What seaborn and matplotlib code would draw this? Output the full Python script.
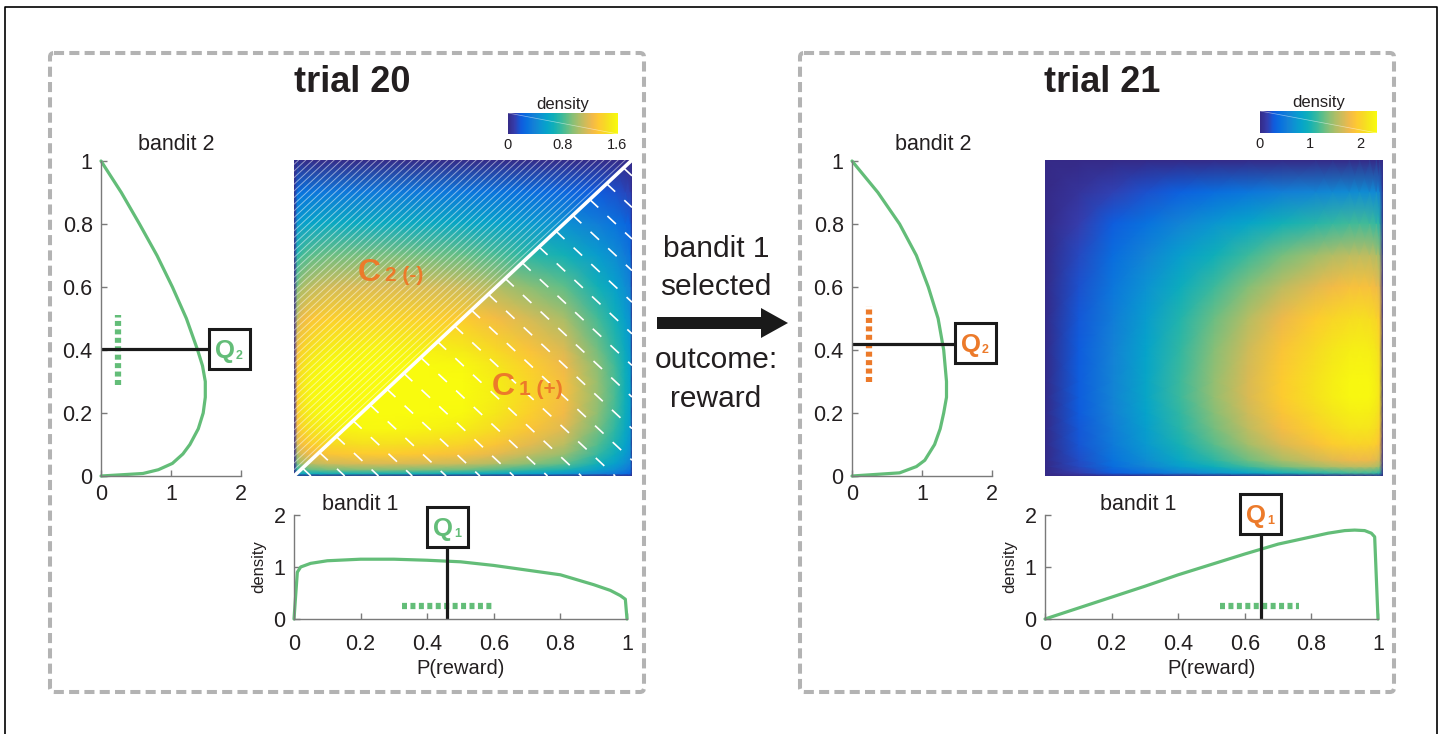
import numpy as np
import matplotlib
matplotlib.use('Agg')
import matplotlib.pyplot as plt
from matplotlib.colors import LinearSegmentedColormap
from matplotlib.patches import FancyBboxPatch, Rectangle, FancyArrow
import seaborn as sns

# ---- data ----
# trial 20 marginals
t20_p1 = [0, 0.01, 0.02, 0.05, 0.1, 0.2, 0.3, 0.4, 0.5, 0.6, 0.7, 0.8, 0.9, 0.95, 0.98, 0.995, 1.0]
t20_d1 = [0, 0.9, 1.0, 1.07, 1.12, 1.15, 1.15, 1.13, 1.10, 1.03, 0.94, 0.85, 0.66, 0.55, 0.45, 0.38, 0]
t20_p2 = [0, 0.008, 0.02, 0.04, 0.07, 0.1, 0.15, 0.2, 0.25, 0.3, 0.35, 0.4, 0.5, 0.6, 0.7, 0.8, 0.9, 1.0]
t20_d2 = [0, 0.6, 0.82, 1.02, 1.17, 1.27, 1.39, 1.46, 1.49, 1.49, 1.45, 1.38, 1.22, 1.02, 0.80, 0.55, 0.29, 0]
# trial 21 marginals
t21_p1 = [0, 0.1, 0.2, 0.3, 0.4, 0.5, 0.6, 0.7, 0.8, 0.85, 0.9, 0.93, 0.96, 0.98, 0.99, 1.0]
t21_d1 = [0, 0.21, 0.42, 0.63, 0.85, 1.05, 1.25, 1.44, 1.58, 1.65, 1.70, 1.71, 1.70, 1.65, 1.58, 0]
t21_p2 = [0, 0.01, 0.03, 0.05, 0.1, 0.15, 0.2, 0.25, 0.3, 0.4, 0.5, 0.6, 0.7, 0.8, 0.9, 1.0]
t21_d2 = [0, 0.68, 0.92, 1.04, 1.18, 1.26, 1.31, 1.35, 1.35, 1.31, 1.23, 1.09, 0.92, 0.68, 0.37, 0]

# Q values and dotted intervals
t20_q1, t20_q2 = 0.46, 0.404
t21_q1, t21_q2 = 0.65, 0.42
t20_int1 = [0.325, 0.60]
t20_int2 = [0.29, 0.51]
t21_int1 = [0.527, 0.764]
t21_int2 = [0.30, 0.54]

# colour limits and tick labels
t20_vmax, t21_vmax = 1.62, 2.34
t20_cticks, t20_clabels = [0, 0.8, 1.6], ['0', '0.8', '1.6']
t21_cticks, t21_clabels = [0, 1, 2], ['0', '1', '2']
p_ticks = [0, 0.2, 0.4, 0.6, 0.8, 1]
p_labels = ['0', '0.2', '0.4', '0.6', '0.8', '1']
d2_ticks, d2_labels = [0, 1, 2], ['0', '1', '2']
arrow_lines = ['bandit 1', 'selected', 'outcome:', 'reward']

# ---- style ----
GREEN = '#63bd78'
ORANGE = '#ec7a2a'
TXT = '#231f20'
AXC = '#7a7a7a'

parula_pts = [
    (0.2081, 0.1663, 0.5292), (0.2081, 0.2386, 0.6771), (0.0591, 0.3598, 0.8683),
    (0.0329, 0.4430, 0.8720), (0.0779, 0.5040, 0.8384), (0.0488, 0.5772, 0.8228),
    (0.0231, 0.6418, 0.7913), (0.0590, 0.6838, 0.7254), (0.1801, 0.7177, 0.6424),
    (0.3482, 0.7424, 0.5473), (0.5300, 0.7491, 0.4661), (0.6834, 0.7435, 0.4044),
    (0.8185, 0.7327, 0.3498), (0.9450, 0.7261, 0.2886), (0.9955, 0.7861, 0.1967),
    (0.9697, 0.8481, 0.1475), (0.9598, 0.9218, 0.0948), (0.9763, 0.9831, 0.0538)]
parula = LinearSegmentedColormap.from_list('parula', parula_pts)

sns.set_style('ticks')
plt.rcParams['font.family'] = ['Liberation Sans', 'DejaVu Sans']

W, H = 1443, 734
fig = plt.figure(figsize=(W / 100, H / 100), dpi=100)


def px_axes(x0, y0, x1, y1):
    return fig.add_axes([x0 / W, 1 - y1 / H, (x1 - x0) / W, (y1 - y0) / H])


def style_axes(ax):
    sns.despine(ax=ax)
    for s in ['left', 'bottom']:
        ax.spines[s].set_color(AXC)
        ax.spines[s].set_linewidth(1.0)
    ax.tick_params(direction='in', length=4, width=1, color=AXC,
                   labelcolor=TXT, labelsize=15.5)
    ax.patch.set_alpha(0)


# overlay in pixel coordinates for frames, boxes and annotations
ov = fig.add_axes([0, 0, 1, 1], zorder=10)
ov.set_xlim(0, W)
ov.set_ylim(H, 0)
ov.axis('off')


def q_box(x, y, idx, color):
    ov.add_patch(Rectangle((x, y), 41, 40, facecolor='white', edgecolor='#1a1a1a', lw=2.2))
    ov.text(x + 6, y + 29, 'Q', color=color, fontsize=18.5, fontweight='bold', va='baseline')
    ov.text(x + 27, y + 30, idx, color=color, fontsize=9, fontweight='bold', va='baseline')


def draw_panel(dx, p1, d1, p2, d2, q1, q2, int1, int2, vmax, cticks, clabels,
               title, tx, qcol, dot2col, hatched, b1x, b2dx, q1box, q2box, cbar):
    # bandit 2 (vertical marginal)
    ax2 = px_axes(101 + dx, 161, 241 + dx, 476)
    sns.lineplot(x=d2, y=p2, sort=False, estimator=None, color=GREEN, lw=2.3,
                 clip_on=False, ax=ax2)
    ax2.plot([0.24, 0.24], int2, color=dot2col, lw=4.5, ls=(0, (0.8, 0.55)))
    ax2.plot([0, (q2box[0] - 101 - dx) / 70], [q2, q2], color='#1a1a1a', lw=2.3,
             clip_on=False, solid_capstyle='butt')
    ax2.set_xlim(0, 2)
    ax2.set_ylim(0, 1)
    ax2.set_xticks(d2_ticks, labels=d2_labels)
    ax2.set_yticks(p_ticks, labels=p_labels)
    style_axes(ax2)
    ax2.tick_params(axis='x', pad=6)
    ax2.tick_params(axis='y', pad=6)
    ax2.text(0.5 + b2dx, 1.02, 'bandit 2', transform=ax2.transAxes, ha='center',
             va='bottom', fontsize=15.5, color=TXT)

    # joint density heatmap
    axh = px_axes(294 + dx, 160, 632 + dx, 476)
    Z = np.outer(d2, d1)
    mesh = axh.pcolormesh(p1, p2, Z, shading='gouraud', cmap=parula, vmin=0, vmax=vmax)
    axh.set_xlim(0, 1)
    axh.set_ylim(0, 1)
    axh.axis('off')
    if hatched:
        # fine solid lines over C2 (upper-left), dashed lines over C1 (lower-right)
        for c in np.arange(0.02, 1.0, 0.021):
            axh.plot([0, 1 - c], [c, 1], color='white', lw=0.7, alpha=0.5)
        for t in np.arange(0.025, 1.0, 0.05):
            s = min(1 - t, t)
            axh.plot([t, t + s], [t, t - s], color='white', lw=1.2,
                     ls=(0, (7, 7.5)))
        axh.plot([0, 1], [0, 1], color='white', lw=2.6)

    # colorbar
    cax = px_axes(*cbar)
    cb = fig.colorbar(mesh, cax=cax, orientation='horizontal')
    cb.set_ticks(cticks, labels=clabels)
    cb.outline.set_visible(False)
    cax.tick_params(length=0, labelsize=10.5, pad=3, labelcolor=TXT)
    cax.set_title('density', fontsize=12, pad=3, color=TXT)
    cax.plot([0, vmax], [1, 0], color='white', lw=0.5, alpha=0.5)

    # bandit 1 (horizontal marginal)
    ax1 = px_axes(294 + dx, 515, 627 + dx, 619)
    sns.lineplot(x=p1, y=d1, sort=False, estimator=None, color=GREEN, lw=2.3,
                 clip_on=False, ax=ax1)
    ax1.plot(int1, [0.25, 0.25], color=GREEN, lw=4.5, ls=(0, (0.8, 0.55)))
    ax1.plot([q1, q1], [0, (619 - q1box[1] - 40) / 52], color='#1a1a1a', lw=2.3,
             clip_on=False, solid_capstyle='butt')
    ax1.set_xlim(0, 1)
    ax1.set_ylim(0, 2)
    ax1.set_xticks(p_ticks, labels=p_labels)
    ax1.set_yticks(d2_ticks, labels=d2_labels)
    style_axes(ax1)
    ax1.tick_params(axis='x', pad=11)
    ax1.tick_params(axis='y', pad=6)
    ax1.set_xlabel('P(reward)', fontsize=14.5, color=TXT, labelpad=3)
    ax1.set_ylabel('density', fontsize=12, color=TXT, labelpad=5)
    ax1.text(b1x, 2.0, 'bandit 1', ha='center', va='bottom', fontsize=15.5, color=TXT)

    q_box(q1box[0], q1box[1], '1', qcol)
    q_box(q2box[0], q2box[1], '2', qcol)
    ov.text(tx, 92, title, ha='center', va='baseline', fontsize=26,
            fontweight='bold', color=TXT)


draw_panel(0, t20_p1, t20_d1, t20_p2, t20_d2, t20_q1, t20_q2, t20_int1, t20_int2,
           t20_vmax, t20_cticks, t20_clabels, 'trial 20', 352, GREEN, GREEN, True,
           0.2, 0.04, (427, 507), (209, 329), (508, 113, 618, 134))
draw_panel(751, t21_p1, t21_d1, t21_p2, t21_d2, t21_q1, t21_q2, t21_int1, t21_int2,
           t21_vmax, t21_cticks, t21_clabels, 'trial 21', 1102, ORANGE, ORANGE, False,
           0.28, 0.08, (1240, 494), (955, 323), (1260, 111, 1377, 133))

# region labels on the hatched heatmap
ov.text(358, 281, 'C', color=ORANGE, fontsize=23, fontweight='bold', va='baseline')
ov.text(385, 281, '2 (-)', color=ORANGE, fontsize=15, fontweight='bold', va='baseline')
ov.text(492, 395, 'C', color=ORANGE, fontsize=23, fontweight='bold', va='baseline')
ov.text(519, 395, '1 (+)', color=ORANGE, fontsize=15, fontweight='bold', va='baseline')

# dashed panel frames and the outer frame
for x0 in (50, 800):
    ov.add_patch(FancyBboxPatch((x0, 53), 594, 639, boxstyle='round,pad=0,rounding_size=4',
                                fill=False, ec='#b3b3b3', lw=2.9, ls=(0, (2.5, 1.3))))
ov.plot([5, 5, 1437, 1437], [760, 7, 7, 760], color='black', lw=1.2)

# middle arrow and its caption
ov.add_patch(FancyArrow(657, 323, 131, 0, width=12, head_width=30, head_length=27,
                        length_includes_head=True, color='#1a1a1a', lw=0))
for txt, yb in zip(arrow_lines, [257, 295, 368, 407]):
    ov.text(716, yb, txt, ha='center', va='baseline', fontsize=21.5, color=TXT)

fig.savefig('out.png', dpi=100)
